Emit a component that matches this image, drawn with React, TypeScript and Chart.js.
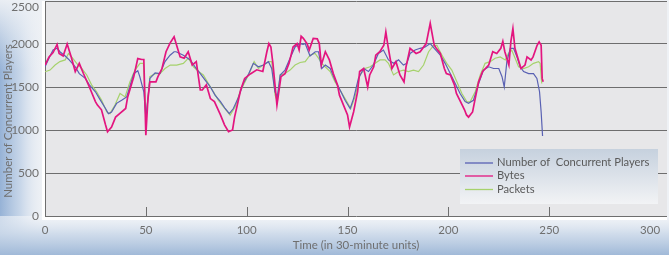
import React, { useEffect, useRef } from "react";
import { Chart, registerables } from "chart.js";

Chart.register(...registerables);

// ---- data (time in 30-minute units, values = count) ----
const playersT = [0, 2.5, 4, 6, 7.4, 10, 12, 15, 17, 20, 22, 25, 27, 30, 31.4, 33, 35.5, 38, 40.5, 42, 44, 46, 47, 49, 50, 51, 52, 54.6, 57, 59.5, 62, 64, 65, 68.6, 72, 74.4, 77, 79.4, 82, 84.3, 87, 89.3, 91.4, 93.4, 96, 98.3, 101, 103.3, 105.8, 108.3, 110.8, 112.4, 114, 115.2, 116.6, 119, 121.5, 124, 126.5, 128, 129, 131.4, 134, 135.6, 137.2, 139, 141.4, 143.8, 146.3, 148.8, 151.3, 153, 155.4, 158, 160.4, 162.8, 165.3, 167.8, 170.3, 172.8, 175.3, 177.7, 179.4, 181, 183.5, 186, 188.5, 191, 193, 196, 198.4, 201, 203.4, 205.8, 208.3, 210, 212.4, 215, 217.4, 220, 222.4, 225, 226.6, 227.7, 229, 230.7, 232.3, 234, 235.6, 237.3, 239.8, 242.2, 243.9, 245.2, 246, 246.7];
const playersV = [1735, 1860, 1930, 1950, 1910, 1860, 1815, 1735, 1655, 1600, 1525, 1445, 1365, 1250, 1190, 1210, 1310, 1345, 1385, 1500, 1655, 1690, 1620, 1445, 1145, 1350, 1600, 1665, 1655, 1795, 1870, 1910, 1910, 1870, 1815, 1735, 1655, 1580, 1500, 1405, 1330, 1250, 1190, 1250, 1385, 1540, 1655, 1775, 1735, 1755, 1795, 1715, 1445, 1385, 1640, 1697, 1835, 1965, 2005, 1995, 2005, 1860, 1910, 1910, 1715, 1755, 1715, 1580, 1465, 1345, 1250, 1365, 1600, 1715, 1680, 1755, 1890, 1930, 1815, 1775, 1815, 1755, 1775, 1890, 1930, 1950, 1965, 2005, 1950, 1870, 1775, 1655, 1540, 1425, 1330, 1310, 1345, 1540, 1697, 1735, 1715, 1715, 1620, 1500, 1795, 1950, 1950, 1850, 1735, 1680, 1655, 1655, 1600, 1445, 1210, 930];

const bytesT = [0, 2, 4, 6, 7, 9, 11, 13, 15, 17, 19, 22, 25, 26, 28, 30, 31, 33, 35, 37, 40, 41, 44, 46, 48, 49, 50, 51, 52, 55, 56, 58, 60, 62, 64, 65, 67, 69, 71, 73, 75, 77, 78, 80, 82, 84, 87, 89, 91, 93, 94, 97, 99, 102, 105, 108, 110, 111, 112, 113, 115, 117, 119, 121, 123, 125, 126, 127, 128, 130, 131, 133, 135, 136, 137, 139, 141, 143, 145, 146, 148, 150, 151, 153, 155, 156, 158, 160, 161, 163, 164, 166, 168, 169, 170, 172, 174, 176, 178, 179, 181, 184, 186, 189, 191, 193, 194, 196, 198, 199, 201, 203, 204, 206, 208, 209, 210, 212, 213, 215, 217, 220, 222, 224, 226, 227, 228, 230, 231, 232, 233, 235, 236, 238, 239, 241, 242, 244, 245, 246, 246.5, 247];
const bytesV = [1755, 1850, 1900, 1995, 1890, 1860, 2000, 1850, 1680, 1775, 1660, 1500, 1330, 1290, 1235, 1060, 980, 1035, 1150, 1190, 1250, 1385, 1620, 1830, 1820, 1820, 940, 1350, 1560, 1560, 1620, 1715, 1910, 2010, 2085, 2005, 1850, 1835, 1910, 1755, 1795, 1465, 1465, 1525, 1365, 1330, 1175, 1060, 980, 1000, 1150, 1465, 1600, 1655, 1700, 1680, 1910, 2005, 1965, 1775, 1290, 1620, 1655, 1775, 1965, 2005, 1930, 2090, 2070, 2000, 1930, 2065, 2060, 2005, 1755, 1910, 1815, 1655, 1525, 1405, 1290, 1175, 1035, 1210, 1445, 1680, 1715, 1500, 1640, 1735, 1870, 1910, 1985, 2140, 1985, 1715, 1795, 1640, 1560, 1735, 1950, 1890, 1910, 2005, 2240, 1985, 1950, 1890, 1715, 1655, 1640, 1525, 1425, 1330, 1235, 1175, 1150, 1210, 1330, 1560, 1680, 1755, 1910, 1890, 1950, 2030, 1910, 1755, 2030, 2180, 1950, 1795, 1715, 1755, 1850, 1815, 1850, 1985, 2025, 1985, 1600, 1560];

const packetsT = [0, 2.5, 5, 7.4, 10, 11.6, 13.2, 15.7, 18.2, 20.7, 23.1, 25.6, 28.1, 30.6, 32.2, 34.7, 37.2, 39.7, 42.1, 44.6, 47.1, 48.8, 50.1, 52, 54.6, 57, 59.5, 62.1, 65.3, 68.6, 71.1, 73.6, 76.1, 78.5, 81, 83.5, 86, 88.5, 91.8, 94.3, 96.7, 99.2, 101.7, 103.7, 105.8, 108.3, 110.8, 112.4, 114.1, 115.2, 116.6, 119, 121.5, 124, 126.5, 129, 131.4, 133.9, 135.6, 137.2, 138.9, 141.4, 143.8, 146.3, 148.8, 151.6, 153.7, 156.2, 158.7, 161.2, 163.7, 166.1, 168.6, 170.3, 172.8, 175.3, 177.7, 180.2, 182.7, 185.2, 187.7, 190.2, 192.7, 194.3, 196.8, 199.2, 201.7, 204.2, 206.7, 209.2, 210.8, 213.3, 215.8, 218.2, 220.7, 223.2, 225.7, 228.2, 229.8, 231.4, 233.1, 234.8, 237.3, 239.8, 242.2, 244.7, 245.5, 246.3];
const packetsV = [1677, 1697, 1755, 1795, 1815, 1890, 1850, 1775, 1715, 1640, 1525, 1445, 1345, 1210, 1190, 1290, 1425, 1385, 1560, 1697, 1775, 1775, 1130, 1620, 1655, 1655, 1715, 1755, 1755, 1775, 1835, 1735, 1680, 1640, 1540, 1445, 1345, 1270, 1173, 1270, 1445, 1560, 1680, 1795, 1715, 1755, 1795, 1795, 1405, 1327, 1640, 1657, 1697, 1755, 1785, 1795, 1870, 1890, 1835, 1775, 1735, 1680, 1560, 1465, 1365, 1250, 1385, 1640, 1715, 1735, 1775, 1815, 1815, 1775, 1640, 1680, 1697, 1680, 1697, 1680, 1755, 1910, 1985, 1985, 1870, 1775, 1697, 1560, 1425, 1327, 1327, 1445, 1640, 1775, 1795, 1835, 1850, 1815, 1890, 1930, 1835, 1735, 1715, 1735, 1775, 1795, 1775, 1540];

const seriesLabels = ["Number of  Concurrent Players", "Bytes", "Packets"];
const xTicks = [0, 50, 100, 150, 200, 250, 300];
const yTicks = [0, 500, 1000, 1500, 2000, 2500];
const xInnerTicks = [50, 100, 150, 200, 250];
const xTitle = "Time (in 30-minute units)";
const yTitle = "Number of Concurrent Players";

const FONT = "Lato, 'DejaVu Sans', sans-serif";
const TEXT = "#6f6f6f";
const GRID = "#6e6e6e";

const pts = (t: number[], v: number[]) => t.map((x, i) => ({ x, y: v[i] }));

const decor = {
  id: "decor",
  beforeDraw(chart: any) {
    const { ctx, chartArea: a, width, height } = chart;
    ctx.save();
    ctx.fillStyle = "#eef1f5";
    ctx.fillRect(0, 0, width, height);
    // left gradient
    let g = ctx.createLinearGradient(0, 0, 46, 0);
    g.addColorStop(0, "rgba(150,178,214,1)");
    g.addColorStop(0.45, "rgba(196,212,232,0.9)");
    g.addColorStop(1, "rgba(238,241,245,0)");
    ctx.fillStyle = g;
    ctx.fillRect(0, 0, 46, height);
    // fade top of left strip
    g = ctx.createLinearGradient(0, 0, 0, 70);
    g.addColorStop(0, "rgba(238,241,245,0.95)");
    g.addColorStop(1, "rgba(238,241,245,0)");
    ctx.fillStyle = g;
    ctx.fillRect(0, 0, 46, 70);
    // bottom gradient
    g = ctx.createLinearGradient(0, a.bottom, 0, height);
    g.addColorStop(0, "rgba(244,246,249,0.6)");
    g.addColorStop(0.45, "rgba(205,218,234,0.9)");
    g.addColorStop(1, "rgba(160,185,216,1)");
    ctx.fillStyle = g;
    ctx.fillRect(0, a.bottom, width, height - a.bottom);
    // white frame strips
    ctx.fillStyle = "#ffffff";
    ctx.fillRect(a.left - 3, a.top, 3, a.bottom - a.top + 4);
    ctx.fillRect(a.left - 3, a.bottom, a.right - a.left + 3, 4);
    // plot background
    ctx.fillStyle = "#e7e7e9";
    ctx.fillRect(a.left, a.top, a.right - a.left, a.bottom - a.top);
    ctx.restore();
  },
  afterDraw(chart: any) {
    const { ctx, chartArea: a } = chart;
    const xs = chart.scales.x;
    const ys = chart.scales.y;
    ctx.save();
    // inner ticks on x axis
    ctx.strokeStyle = GRID;
    ctx.lineWidth = 1;
    xInnerTicks.forEach((t) => {
      const px = Math.round(xs.getPixelForValue(t)) + 0.5;
      ctx.beginPath();
      ctx.moveTo(px, a.bottom);
      ctx.lineTo(px, a.bottom - 9);
      ctx.stroke();
    });
    // y tick labels
    ctx.fillStyle = TEXT;
    ctx.font = `12px ${FONT}`;
    ctx.textAlign = "right";
    ctx.textBaseline = "middle";
    yTicks.forEach((v) => {
      const py = Math.max(ys.getPixelForValue(v), 7);
      ctx.fillText(String(v), 39, py);
    });
    // x tick labels
    ctx.textAlign = "center";
    ctx.font = `11.5px ${FONT}`;
    xTicks.forEach((v) => {
      ctx.fillText(String(v), xs.getPixelForValue(v), 230);
    });
    // x title
    ctx.fillText(xTitle, (a.left + a.right) / 2, 245);
    // y title
    ctx.translate(8, 121);
    ctx.rotate(-Math.PI / 2);
    ctx.textAlign = "center";
    ctx.font = `11.5px ${FONT}`;
    ctx.fillText(yTitle, 0, 0);
    ctx.restore();

    // legend
    ctx.save();
    const bx = 460, by = 149, bw = 198, bh = 55;
    const g = ctx.createLinearGradient(0, by, 0, by + bh);
    g.addColorStop(0, "#c6d1de");
    g.addColorStop(1, "#f2f3f5");
    ctx.fillStyle = g;
    ctx.fillRect(bx, by, bw, bh);
    const rows = [162.5, 175.5, 189];
    chart.data.datasets.forEach((ds: any, i: number) => {
      ctx.strokeStyle = ds.borderColor;
      ctx.lineWidth = 1.3;
      ctx.beginPath();
      ctx.moveTo(465, rows[i] + 0.5);
      ctx.lineTo(493, rows[i] + 0.5);
      ctx.stroke();
      ctx.fillStyle = "#5a5a5a";
      ctx.font = `11.2px ${FONT}`;
      ctx.textAlign = "left";
      ctx.textBaseline = "middle";
      ctx.fillText(ds.label, 497, rows[i]);
    });
    ctx.restore();
  },
};

export default function App() {
  const ref = useRef<HTMLCanvasElement | null>(null);
  useEffect(() => {
    document.body.style.margin = "0";
    const chart = new Chart(ref.current as HTMLCanvasElement, {
      type: "line",
      data: {
        datasets: [
          {
            label: seriesLabels[0],
            data: pts(playersT, playersV),
            borderColor: "#5961b3",
            borderWidth: 1.2,
            pointRadius: 0,
            tension: 0,
            order: 1,
          },
          {
            label: seriesLabels[1],
            data: pts(bytesT, bytesV),
            borderColor: "#e3157f",
            borderWidth: 1.7,
            pointRadius: 0,
            tension: 0,
            order: 0,
          },
          {
            label: seriesLabels[2],
            data: pts(packetsT, packetsV),
            borderColor: "#a6d26c",
            borderWidth: 1.2,
            pointRadius: 0,
            tension: 0,
            order: 2,
          },
        ],
      },
      options: {
        animation: false,
        responsive: true,
        maintainAspectRatio: false,
        layout: { padding: { left: 45, right: 2, top: 1, bottom: 39 } },
        plugins: { legend: { display: false }, tooltip: { enabled: false } },
        scales: {
          x: {
            type: "linear",
            min: 0,
            max: 308.4,
            afterBuildTicks: (s: any) => {
              s.ticks = xTicks.map((v) => ({ value: v }));
            },
            grid: { display: false, drawTicks: false },
            border: { display: false },
            ticks: { display: false },
            title: { display: false },
          },
          y: {
            min: 0,
            max: 2500,
            ticks: { display: false, stepSize: 500 },
            grid: { color: GRID, lineWidth: 1, drawTicks: false },
            border: { display: true, color: GRID, width: 1 },
            title: { display: false },
          },
        },
      },
      plugins: [decor],
    });
    return () => chart.destroy();
  }, []);
  return (
    <div style={{ position: "fixed", left: 0, top: 0, width: 669, height: 255 }}>
      <canvas ref={ref} />
    </div>
  );
}
